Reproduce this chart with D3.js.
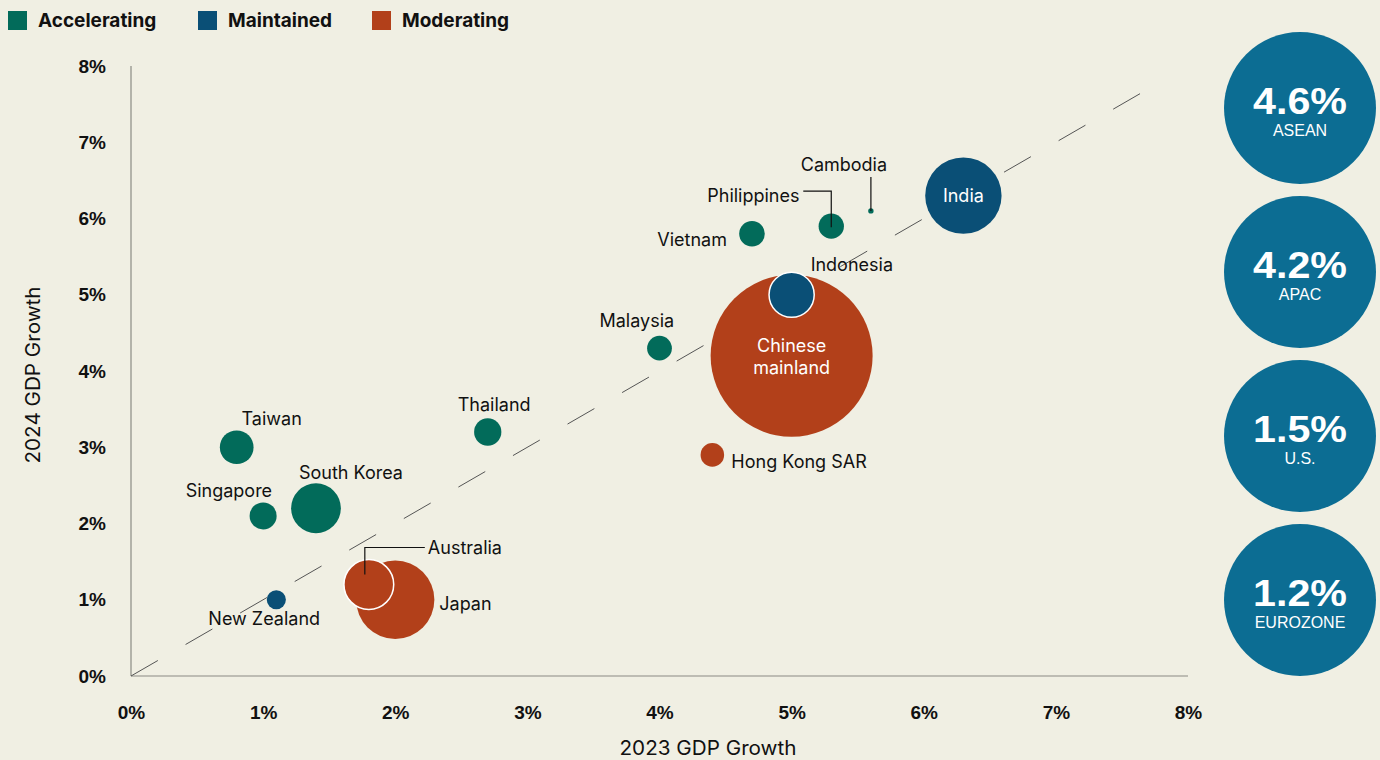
<!DOCTYPE html>
<meta charset="utf-8">
<style>
body { margin: 0; background: #f0efe3; }
svg { display: block; font-family: Inter, "Liberation Sans", Arial, sans-serif; }
.tick text { font-weight: bold; font-size: 18px; fill: #111; font-family: "Liberation Sans", Arial, sans-serif; }
.lbl { font-size: 18px; fill: #111; }
</style>
<svg width="1380" height="760"></svg>
<script src="https://cdn.jsdelivr.net/npm/d3@7"></script>
<script>
// economies: 2023 growth, 2024 growth, GDP size (USD tn), trend group
var names  = ["Taiwan", "Singapore", "South Korea", "Thailand", "New Zealand", "Japan", "Australia",
              "Malaysia", "Vietnam", "Philippines", "Cambodia", "India", "Chinese mainland", "Indonesia", "Hong Kong SAR"];
var gdp23  = [0.8, 1.0, 1.4, 2.7, 1.1, 2.0, 1.8, 4.0, 4.7, 5.3, 5.6, 6.3, 5.0, 5.0, 4.4];
var gdp24  = [3.0, 2.1, 2.2, 3.2, 1.0, 1.0, 1.2, 4.3, 5.8, 5.9, 6.1, 6.3, 4.2, 5.0, 2.9];
var gdpSize = [0.78, 0.5, 1.7, 0.51, 0.25, 4.2, 1.7, 0.42, 0.45, 0.44, 0.02, 4.0, 18, 1.4, 0.38];
var trend  = ["Accelerating", "Accelerating", "Accelerating", "Accelerating", "Maintained", "Moderating", "Moderating",
              "Accelerating", "Accelerating", "Accelerating", "Accelerating", "Maintained", "Moderating", "Maintained", "Moderating"];
var groups = ["Accelerating", "Maintained", "Moderating"];
var regions = ["ASEAN", "APAC", "U.S.", "EUROZONE"];
var regionGrowth = [4.6, 4.2, 1.5, 1.2];
var xTicks = [0, 1, 2, 3, 4, 5, 6, 7, 8];
var yTicks = [0, 1, 2, 3, 4, 5, 6, 7, 8];

var color = d3.scaleOrdinal().domain(groups).range(["#026b5a", "#0a4f76", "#b2401a"]);

var svg = d3.select("svg");
var x = d3.scaleLinear().domain([0, 8]).range([131, 1188]);
var y = d3.scaleLinear().domain([0, 8]).range([676, 66]);
var r = d3.scaleSqrt().domain([0, 18]).range([0, 81]);

// legend
var leg = svg.append("g").selectAll("g").data(groups).enter().append("g")
    .attr("transform", function(d, i) { return "translate(" + [8, 198, 372][i] + ",11)"; });
leg.append("rect").attr("width", 19).attr("height", 19).attr("fill", function(d) { return color(d); });
leg.append("text").attr("x", 30).attr("y", 16).text(function(d) { return d; })
    .style("font-weight", "bold").style("font-size", "19px").attr("fill", "#111");

// axes
var xAxis = svg.append("g").attr("transform", "translate(0,676)")
    .call(d3.axisBottom(x).tickValues(xTicks).tickSize(0).tickPadding(30).tickFormat(function(d) { return d + "%"; }));
var yAxis = svg.append("g").attr("transform", "translate(131,0)")
    .call(d3.axisLeft(y).tickValues(yTicks).tickSize(0).tickPadding(25).tickFormat(function(d) { return d + "%"; }));
svg.selectAll(".domain").attr("stroke", "#8a8a84").attr("stroke-width", 1.2);
xAxis.select(".domain").attr("d", "M131,0H1188");
yAxis.select(".domain").attr("d", "M0,66V676");
svg.selectAll(".tick text").style("font-size", "19px");

svg.append("text").attr("x", 708).attr("y", 755).attr("text-anchor", "middle")
    .attr("class", "lbl").style("font-size", "20px").attr("textLength", 177).attr("lengthAdjust", "spacingAndGlyphs")
    .text("2023 GDP Growth");
svg.append("text").attr("transform", "translate(40,375) rotate(-90)").attr("text-anchor", "middle")
    .attr("class", "lbl").style("font-size", "20px").attr("textLength", 177).attr("lengthAdjust", "spacingAndGlyphs")
    .text("2024 GDP Growth");

// y = x reference line
svg.append("line")
    .attr("x1", x(0)).attr("y1", y(0)).attr("x2", x(7.65)).attr("y2", y(7.65))
    .attr("stroke", "#555").attr("stroke-width", 1).attr("stroke-dasharray", "31,32");

var data = names.map(function(n, i) {
  return { name: n, x: gdp23[i], y: gdp24[i], size: gdpSize[i], group: trend[i] };
});
var byName = {};
data.forEach(function(d) { byName[d.name] = d; });

svg.append("g").selectAll("circle").data(data).enter().append("circle")
    .attr("cx", function(d) { return x(d.x); })
    .attr("cy", function(d) { return y(d.y); })
    .attr("r", function(d) { return r(d.size); })
    .attr("fill", function(d) { return color(d.group); })
    .attr("stroke", function(d) { return (d.name == "Indonesia" || d.name == "Australia") ? "#fff" : "none"; })
    .attr("stroke-width", 1.5);

// labels: [dx, dy, anchor] relative to bubble centre
var labelPos = {
  "Taiwan": [35, -22, "middle"], "Singapore": [9, -19, "end"], "South Korea": [-17, -29, "start"],
  "Thailand": [-30, -21, "start"], "New Zealand": [-68, 25, "start"], "Japan": [44, 10, "start"],
  "Australia": [59, -31, "start"], "Malaysia": [-60, -21, "start"], "Vietnam": [-25, 12, "end"],
  "Philippines": [-124, -24, "start"], "Cambodia": [-27, -40, "middle"], "Indonesia": [19, -24, "start"],
  "Hong Kong SAR": [19, 13, "start"]
};
svg.append("g").selectAll("text").data(data.filter(function(d) { return labelPos[d.name]; })).enter().append("text")
    .attr("class", "lbl")
    .attr("x", function(d) { return x(d.x) + labelPos[d.name][0]; })
    .attr("y", function(d) { return y(d.y) + labelPos[d.name][1]; })
    .attr("text-anchor", function(d) { return labelPos[d.name][2]; })
    .text(function(d) { return d.name; });

// inside labels
svg.append("text").attr("class", "lbl").style("fill", "#fff")
    .attr("x", x(byName["India"].x)).attr("y", y(byName["India"].y) + 6).attr("text-anchor", "middle").text("India");
var cm = svg.append("text").attr("class", "lbl").style("fill", "#fff").attr("text-anchor", "middle");
cm.append("tspan").attr("x", x(byName["Chinese mainland"].x)).attr("y", y(byName["Chinese mainland"].y) - 4).text("Chinese");
cm.append("tspan").attr("x", x(byName["Chinese mainland"].x)).attr("y", y(byName["Chinese mainland"].y) + 18).text("mainland");

// leader lines
function leader(pts) {
  svg.append("path").attr("fill", "none").attr("stroke", "#111").attr("stroke-width", 1.2)
      .attr("d", d3.line()(pts));
}
var au = byName["Australia"], ph = byName["Philippines"], ca = byName["Cambodia"];
leader([[x(au.x) - 4, y(au.y) - 10], [x(au.x) - 4, y(au.y) - 37], [x(au.x) + 56, y(au.y) - 37]]);
leader([[x(ph.x) - 28, y(ph.y) - 35], [x(ph.x), y(ph.y) - 35], [x(ph.x), y(ph.y) + 1]]);
leader([[x(ca.x), y(ca.y) - 34], [x(ca.x), y(ca.y)]]);

// region circles
var rg = svg.append("g").selectAll("g").data(regions).enter().append("g")
    .attr("transform", function(d, i) { return "translate(1300," + (108 + i * 164) + ")"; });
rg.append("circle").attr("r", 76).attr("fill", "#0c6d93");
rg.append("text").attr("text-anchor", "middle").attr("y", 6).attr("fill", "#fff")
    .style("font-weight", "bold").style("font-size", "37px").style("font-family", "'Liberation Sans', Arial, sans-serif")
    .attr("textLength", 94).attr("lengthAdjust", "spacingAndGlyphs")
    .text(function(d, i) { return regionGrowth[i].toFixed(1) + "%"; });
rg.append("text").attr("text-anchor", "middle").attr("y", 28).attr("fill", "#fff")
    .style("font-size", "16px").style("font-family", "'Liberation Sans', Arial, sans-serif")
    .text(function(d) { return d; });
</script>
